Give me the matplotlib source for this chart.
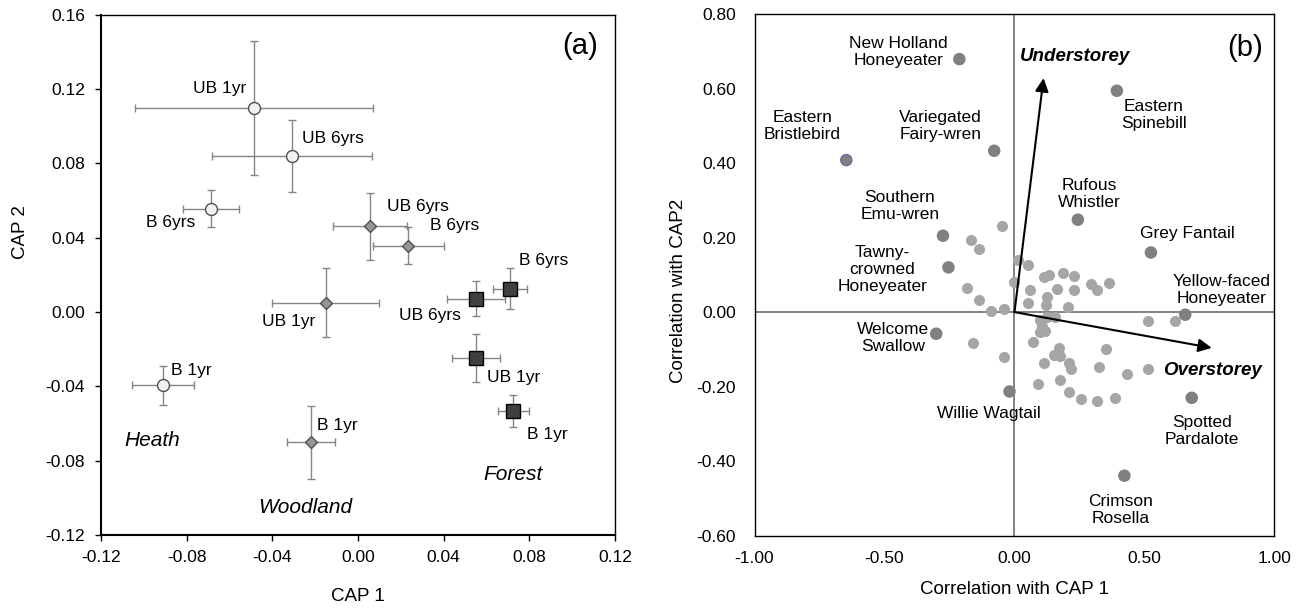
import numpy as np
import matplotlib
matplotlib.use('Agg')
import matplotlib.pyplot as plt
from matplotlib.ticker import FormatStrFormatter

plt.rcParams['font.family'] = ['Liberation Sans', 'DejaVu Sans']
plt.rcParams['axes.unicode_minus'] = False

# ---- panel (a): CAP group centroids (mean +/- se) ----
treat = ['B 1yr', 'B 6yrs', 'UB 1yr', 'UB 6yrs']

heath_x = [-0.0910, -0.0688, -0.0484, -0.0308]
heath_y = [-0.0395, 0.0556, 0.1096, 0.0839]
heath_xerr = [0.0145, 0.0130, 0.0556, 0.0375]
heath_yerr = [0.0103, 0.0100, 0.0360, 0.0194]

wood_x = [-0.0221, 0.0235, -0.0151, 0.0056]
wood_y = [-0.0702, 0.0356, 0.0050, 0.0461]
wood_xerr = [0.0112, 0.0165, 0.0249, 0.0172]
wood_yerr = [0.0196, 0.0100, 0.0187, 0.0180]

forest_x = [0.0725, 0.0708, 0.0550, 0.0550]
forest_y = [-0.0533, 0.0124, -0.0248, 0.0072]
forest_xerr = [0.0072, 0.0080, 0.0112, 0.0136]
forest_yerr = [0.0085, 0.0110, 0.0130, 0.0096]

# ---- panel (b): species correlations with CAP axes ----
named_species = ['New Holland\nHoneyeater', 'Eastern\nBristlebird', 'Variegated\nFairy-wren',
                 'Southern\nEmu-wren', 'Tawny-\ncrowned\nHoneyeater', 'Welcome\nSwallow',
                 'Willie Wagtail', 'Rufous\nWhistler', 'Eastern\nSpinebill', 'Grey Fantail',
                 'Yellow-faced\nHoneyeater', 'Spotted\nPardalote', 'Crimson\nRosella']
named_x = [-0.212, -0.647, -0.078, -0.275, -0.254, -0.301, -0.019, 0.244, 0.394, 0.525, 0.657, 0.682, 0.423]
named_y = [0.679, 0.408, 0.433, 0.205, 0.120, -0.058, -0.213, 0.248, 0.594, 0.160, -0.007, -0.230, -0.439]

other_x = [-0.048, -0.167, -0.137, 0.015, 0.052, 0.000, -0.183, -0.135, -0.092, -0.042,
           0.060, 0.052, 0.114, 0.133, 0.185, 0.230, 0.163, 0.230, 0.125, 0.121,
           0.205, 0.294, 0.319, 0.362, 0.515, 0.619, 0.099, 0.125, 0.157, 0.105,
           0.118, 0.099, 0.073, -0.159, -0.042, 0.173, 0.154, 0.176, 0.208, 0.218,
           0.115, 0.353, 0.327, 0.432, 0.515, 0.092, 0.176, 0.208, 0.257, 0.319, 0.385]
other_y = [0.230, 0.194, 0.170, 0.139, 0.126, 0.081, 0.065, 0.033, 0.004, 0.008,
           0.060, 0.024, 0.093, 0.100, 0.106, 0.098, 0.063, 0.060, 0.040, 0.020,
           0.015, 0.075, 0.060, 0.078, -0.025, -0.025, -0.020, -0.012, -0.012, -0.038,
           -0.052, -0.053, -0.079, -0.083, -0.121, -0.096, -0.114, -0.119, -0.136, -0.154,
           -0.136, -0.098, -0.146, -0.165, -0.154, -0.192, -0.183, -0.214, -0.232, -0.238, -0.230]

vector_names = ['Understorey', 'Overstorey']
vector_x = [0.112, 0.759]
vector_y = [0.628, -0.096]

# label offsets (pixels) from each point
heath_off = [(28, 15), (-40, -14), (-35, 20), (41, 17)]
wood_off = [(27, 17), (46, 20), (-37, -19), (48, 20)]
forest_off = [(34, -23), (34, 28), (38, -19), (-46, -17)]
named_off = [(-61, 7), (-44, 34), (-54, 25), (-43, 30), (-66, -2), (-43, -4), (-21, -22),
             (11, 26), (37, -24), (36, 19), (36, 25), (10, -33), (-4, -34)]
vector_off = [(31, 22), (1, -23)]

fig = plt.figure(figsize=(13.1, 6.12), dpi=100)
axa = fig.add_axes([0.0771, 0.1258, 0.3924, 0.8505])
axb = fig.add_axes([0.5760, 0.1247, 0.3968, 0.8524])

lab_fs = 12.5

# ---------- panel (a) ----------
groups = [
    (heath_x, heath_y, heath_xerr, heath_yerr, 'o', 8.6, '#f2f2f2', '#505050', heath_off),
    (wood_x, wood_y, wood_xerr, wood_yerr, 'D', 6.2, '#969696', '#505050', wood_off),
    (forest_x, forest_y, forest_xerr, forest_yerr, 's', 9.6, '#404040', '#000000', forest_off),
]
for gx, gy, gxe, gye, mk, ms, fc, ec, offs in groups:
    axa.errorbar(gx, gy, xerr=gxe, yerr=gye, fmt=mk, ms=ms, mfc=fc, mec=ec, mew=1,
                 ecolor='#858585', elinewidth=1, capsize=3.2, capthick=1, zorder=3)
    for i, t in enumerate(treat):
        axa.annotate(t, (gx[i], gy[i]), xytext=offs[i], textcoords='offset pixels',
                     ha='center', va='center', fontsize=lab_fs)

axa.text(-0.096, -0.069, 'Heath', style='italic', fontsize=15, ha='center', va='center')
axa.text(-0.0247, -0.105, 'Woodland', style='italic', fontsize=15, ha='center', va='center')
axa.text(0.0725, -0.0875, 'Forest', style='italic', fontsize=15, ha='center', va='center')
axa.text(0.1037, 0.1429, '(a)', fontsize=21, ha='center', va='center')

axa.set_xlim(-0.12, 0.12)
axa.set_ylim(-0.12, 0.16)
axa.set_xticks([-0.12, -0.08, -0.04, 0.0, 0.04, 0.08, 0.12])
axa.set_yticks([-0.12, -0.08, -0.04, 0.0, 0.04, 0.08, 0.12, 0.16])
axa.xaxis.set_major_formatter(FormatStrFormatter('%.2f'))
axa.yaxis.set_major_formatter(FormatStrFormatter('%.2f'))
axa.tick_params(axis='x', direction='out', length=4.3, width=1, labelsize=lab_fs, pad=6.8)
axa.tick_params(axis='y', direction='out', length=4.3, width=1, labelsize=lab_fs, pad=7.3)
for s in ['left', 'bottom']:
    axa.spines[s].set_linewidth(1.5)
for s in ['top', 'right']:
    axa.spines[s].set_linewidth(1.0)
axa.set_xlabel('CAP 1', fontsize=13.5)
axa.set_ylabel('CAP 2', fontsize=13.5)
axa.xaxis.set_label_coords(0.5, -0.118)
axa.xaxis.label.set_va('center')
axa.yaxis.set_label_coords(-0.156, 0.582)
axa.yaxis.label.set_va('center')

# ---------- panel (b) ----------
axb.axvline(0, color='#6e6e6e', lw=1.2, zorder=1)
axb.axhline(0, color='#6e6e6e', lw=1.2, zorder=1)
axb.scatter(other_x, other_y, s=64, color='#a6a6a6', linewidths=0, zorder=2)
edge = ['#808080'] * len(named_x)
edge[1] = '#7a62a6'
axb.scatter(named_x, named_y, s=64, color='#808080', edgecolors=edge, linewidths=1, zorder=3)
for i, name in enumerate(named_species):
    axb.annotate(name, (named_x[i], named_y[i]), xytext=named_off[i], textcoords='offset pixels',
                 ha='center', va='center', fontsize=lab_fs, linespacing=1.15)

for i, name in enumerate(vector_names):
    axb.annotate('', xy=(vector_x[i], vector_y[i]), xytext=(0, 0),
                 arrowprops=dict(arrowstyle='-|>', color='black', lw=1.5,
                                 mutation_scale=20, shrinkA=0, shrinkB=0), zorder=4)
    axb.annotate(name, (vector_x[i], vector_y[i]), xytext=vector_off[i], textcoords='offset pixels',
                 ha='center', va='center', fontsize=13.5, fontweight='bold', style='italic')

axb.text(0.887, 0.708, '(b)', fontsize=21, ha='center', va='center')

axb.set_xlim(-1, 1)
axb.set_ylim(-0.6, 0.8)
axb.set_xticks([-1.0, -0.5, 0.0, 0.5, 1.0])
axb.set_yticks([-0.6, -0.4, -0.2, 0.0, 0.2, 0.4, 0.6, 0.8])
axb.xaxis.set_major_formatter(FormatStrFormatter('%.2f'))
axb.yaxis.set_major_formatter(FormatStrFormatter('%.2f'))
axb.tick_params(axis='x', length=0, labelsize=lab_fs, pad=11.2)
axb.tick_params(axis='y', length=0, labelsize=lab_fs, pad=13.6)
for s in axb.spines.values():
    s.set_linewidth(1.0)
axb.set_xlabel('Correlation with CAP 1', fontsize=13.5)
axb.set_ylabel('Correlation with CAP2', fontsize=13.5)
axb.xaxis.set_label_coords(0.5, -0.104)
axb.xaxis.label.set_va('center')
axb.yaxis.set_label_coords(-0.147, 0.47)
axb.yaxis.label.set_va('center')

fig.savefig('out.png', dpi=100)
